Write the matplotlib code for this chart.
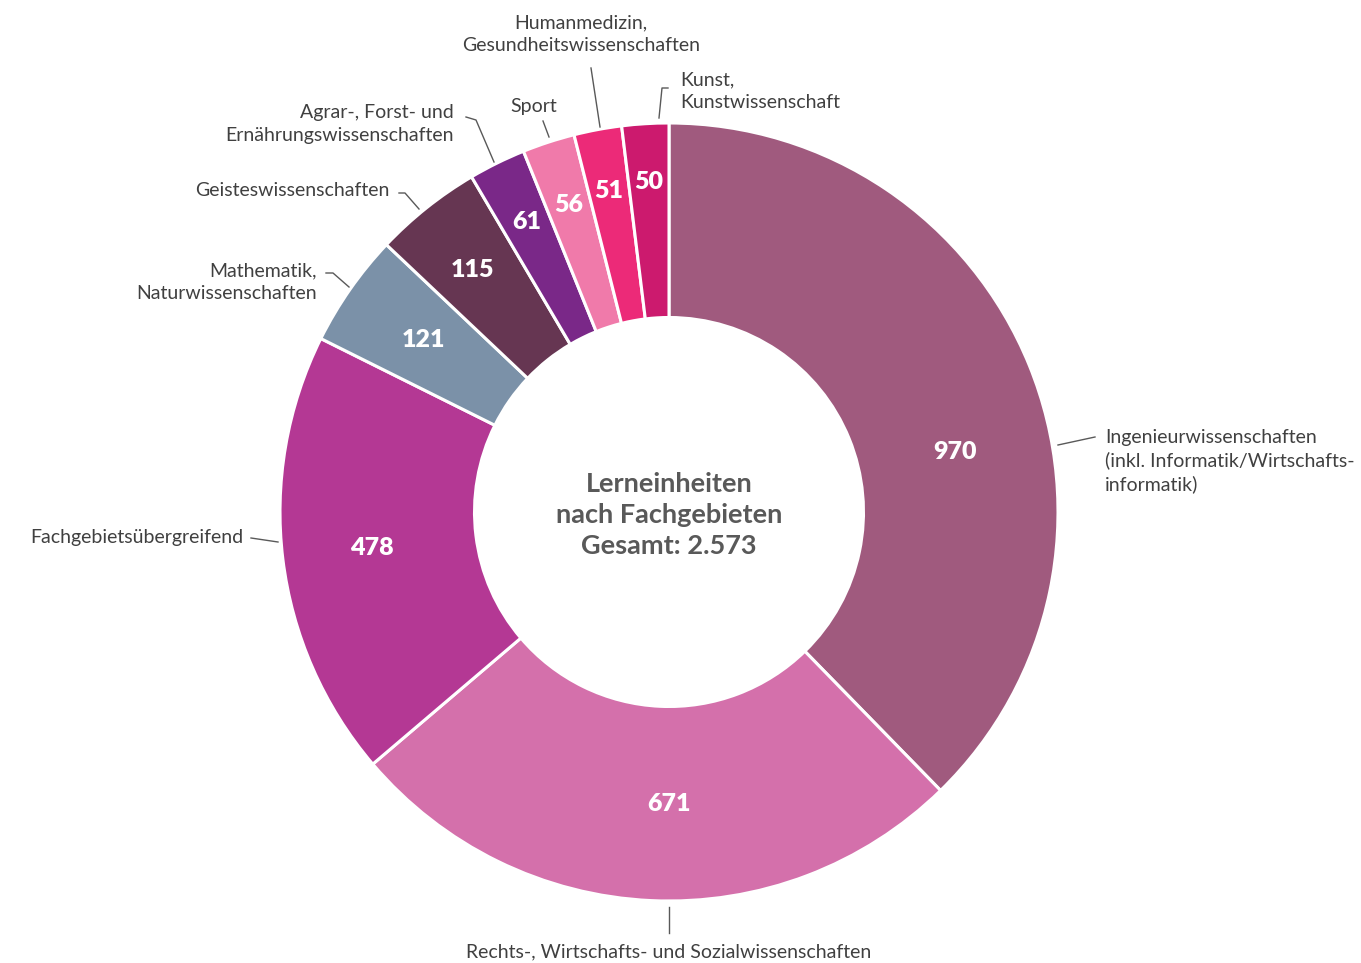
import matplotlib
matplotlib.use("Agg")
import matplotlib.pyplot as plt
import numpy as np

plt.rcParams['font.family'] = ['Lato', 'DejaVu Sans']

categories = [
    "Ingenieurwissenschaften\n(inkl. Informatik/Wirtschafts-\ninformatik)",
    "Rechts-, Wirtschafts- und Sozialwissenschaften",
    "Fachgebietsübergreifend",
    "Mathematik,\nNaturwissenschaften",
    "Geisteswissenschaften",
    "Agrar-, Forst- und\nErnährungswissenschaften",
    "Sport",
    "Humanmedizin,\nGesundheitswissenschaften",
    "Kunst,\nKunstwissenschaft",
]
values = [970, 671, 478, 121, 115, 61, 56, 51, 50]
colors = ["#A05A7E", "#D470AB", "#B43894", "#7B91A8", "#663652",
          "#7A2888", "#F07AAA", "#EC2A78", "#CC1A6E"]
center_title = "Lerneinheiten\nnach Fachgebieten\nGesamt: 2.573"

W, H = 1361, 963
CX, CY, R = 669, 512, 389


def px(x, y):
    # pixel position -> data position (radius 1 = outer ring)
    return (x - CX) / R, (CY - y) / R


fig = plt.figure(figsize=(W / 100, H / 100), dpi=100)
ax = fig.add_axes([0, 0, 1, 1])

wedges, _ = ax.pie(values, colors=colors, startangle=90, counterclock=False,
                   radius=1.0, wedgeprops=dict(width=0.5, edgecolor='white', linewidth=2.2))

ax.set_xlim(-CX / R, (W - CX) / R)
ax.set_ylim(-(H - CY) / R, CY / R)
ax.set_aspect('equal')
ax.axis('off')

# value labels inside the ring
label_r = [0.75, 0.75, 0.77, 0.77, 0.80, 0.83, 0.83, 0.84, 0.85]
label_shift = [-10.3, 2.6, 0, 0, 0.5, 0, 0, 0, 0]
for w, v, r, s in zip(wedges, values, label_r, label_shift):
    ang = np.deg2rad((w.theta1 + w.theta2) / 2 + s)
    ax.text(r * np.cos(ang), r * np.sin(ang), str(v), ha='center', va='center',
            color='white', fontsize=18, fontweight='heavy')

# category labels with leader lines
leaders = [
    ([(1058, 445), (1095, 437)], (1105, 461), 'left'),
    ([(669, 907), (669, 933)], (669, 952), 'center'),
    ([(278, 542), (251, 538)], (243, 538), 'right'),
    ([(349, 287), (333, 273), (326, 273)], (317, 282), 'right'),
    ([(419, 209), (405, 193), (399, 193)], (389, 190), 'right'),
    ([(494, 162), (476, 120), (466, 117)], (454, 124), 'right'),
    ([(549, 137), (543, 121)], (534, 106), 'center'),
    ([(600, 127), (591, 68)], (581, 34), 'center'),
    ([(659, 118), (662, 88), (668, 88)], (680, 91), 'left'),
]
for name, (pts, tpos, ha) in zip(categories, leaders):
    xy = np.array([px(*p) for p in pts])
    ax.plot(xy[:, 0], xy[:, 1], color='#595959', linewidth=1.0)
    tx, ty = px(*tpos)
    ax.text(tx, ty, name, ha=ha, va='center', multialignment=ha,
            color='#404040', fontsize=14, linespacing=1.38)

ax.text(0, px(0, 515)[1], center_title, ha='center', va='center', color='#595959',
        fontsize=19.5, fontweight='bold', linespacing=1.35)

fig.savefig("out.png", dpi=100)
